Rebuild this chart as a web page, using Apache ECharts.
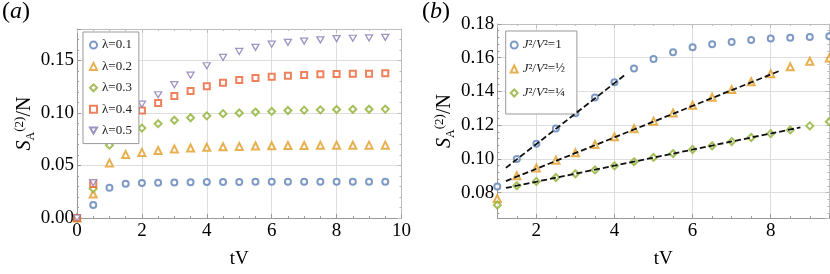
<!DOCTYPE html>
<html>
<head>
<meta charset="utf-8">
<script src="https://cdn.jsdelivr.net/npm/echarts@6/dist/echarts.min.js"></script>
<style>
html,body{margin:0;padding:0;background:#fff;}
#chart{width:830px;height:274px;}
</style>
</head>
<body>
<div id="chart"></div>
<script>
// ---------- Data ----------
// Panel (a): x values (tV) and series for each lambda
var xA = [0, 0.5, 1, 1.5, 2, 2.5, 3, 3.5, 4, 4.5, 5, 5.5, 6, 6.5, 7, 7.5, 8, 8.5, 9, 9.5];
var lam01 = [0, 0.0123, 0.0288, 0.0327, 0.0333, 0.0335, 0.0339, 0.0340, 0.0342, 0.0343, 0.0344, 0.0345, 0.0345, 0.0345, 0.0345, 0.0345, 0.0345, 0.0345, 0.0345, 0.0345];
var lam02 = [0, 0.0228, 0.0525, 0.0604, 0.0625, 0.0643, 0.0658, 0.0667, 0.0673, 0.0679, 0.0682, 0.0686, 0.0688, 0.0690, 0.0691, 0.0692, 0.0693, 0.0693, 0.0694, 0.0694];
var lam03 = [0, 0.0279, 0.0694, 0.0805, 0.0856, 0.0898, 0.0931, 0.0955, 0.0973, 0.0994, 0.1000, 0.1009, 0.1015, 0.1024, 0.1027, 0.1030, 0.1033, 0.1035, 0.1036, 0.1037];
var lam04 = [0, 0.0324, 0.0799, 0.0946, 0.1024, 0.1096, 0.1162, 0.1210, 0.1255, 0.1288, 0.1315, 0.1333, 0.1345, 0.1354, 0.1363, 0.1369, 0.1372, 0.1373, 0.1375, 0.1378];
var lam05 = [0, 0.0336, 0.0835, 0.1003, 0.1084, 0.1174, 0.1270, 0.1360, 0.1450, 0.1529, 0.1586, 0.1625, 0.1655, 0.1673, 0.1685, 0.1697, 0.1709, 0.1712, 0.1715, 0.1721];
var namesA = ['λ=0.1', 'λ=0.2', 'λ=0.3', 'λ=0.4', 'λ=0.5'];

// Panel (b)
var xB = [1, 1.5, 2, 2.5, 3, 3.5, 4, 4.5, 5, 5.5, 6, 6.5, 7, 7.5, 8, 8.5, 9, 9.5];
var j1 = [0.0836, 0.1000, 0.1090, 0.1181, 0.1271, 0.1364, 0.1454, 0.1536, 0.1593, 0.1632, 0.1662, 0.1680, 0.1693, 0.1705, 0.1714, 0.1718, 0.1723, 0.1727];
var j2 = [0.0766, 0.0901, 0.0946, 0.0993, 0.1037, 0.1086, 0.1131, 0.1179, 0.1224, 0.1273, 0.1318, 0.1366, 0.1411, 0.1458, 0.1505, 0.1546, 0.1579, 0.1598];
var j4 = [0.0727, 0.0841, 0.0867, 0.0890, 0.0912, 0.0935, 0.0959, 0.0983, 0.1009, 0.1032, 0.1056, 0.1078, 0.1103, 0.1127, 0.1150, 0.1172, 0.1196, 0.1221];
var namesB = ['J²/V²=1', 'J²/V²=½', 'J²/V²=¼'];

// Linear fits (dashed) endpoints
var fit1X = [1.22, 4.30], fit1Y = [0.0947, 0.1504];
var fit2X = [1.22, 8.27], fit2Y = [0.0869, 0.1526];
var fit3X = [1.22, 8.76], fit3Y = [0.0828, 0.1187];

// ---------- Styles ----------
var SERIF = '"Liberation Serif", "DejaVu Serif", serif';
var colors = ['#5E81B5', '#E19C24', '#8FB032', '#EB6235', '#8778B3'];
var FRAME = '#9a9a9a';
var FRAME2 = '#bdbdbd';
var GRIDC = '#dedede';
var DOWN_TRI = 'path://M0,0L20,0L10,17.3Z';

function pairs(xs, ys) { return xs.map(function (x, i) { return [x, ys[i]]; }); }

var symbolsA = ['emptyCircle', 'emptyTriangle', 'emptyDiamond', 'emptyRect', DOWN_TRI];
var sizesA = [6, 7, 7, 6, [7, 6]];
var dataA = [lam01, lam02, lam03, lam04, lam05];

var series = [];
dataA.forEach(function (d, i) {
  var isPath = i === 4;
  series.push({
    type: 'scatter', name: namesA[i], xAxisIndex: 0, yAxisIndex: 0,
    data: pairs(xA, d), symbol: symbolsA[i], symbolSize: sizesA[i],
    itemStyle: { color: isPath ? '#fff' : colors[i], borderColor: colors[i], borderWidth: 1.3 },
    clip: false, z: 3
  });
});

var dataB = [j1, j2, j4];
var symbolsB = ['emptyCircle', 'emptyTriangle', 'emptyDiamond'];
var sizesB = [6, 7, 7];
dataB.forEach(function (d, i) {
  series.push({
    type: 'scatter', name: namesB[i], xAxisIndex: 2, yAxisIndex: 2,
    data: pairs(xB, d), symbol: symbolsB[i], symbolSize: sizesB[i],
    itemStyle: { color: colors[i], borderColor: colors[i], borderWidth: 1.3 },
    z: 3
  });
});

[[fit1X, fit1Y], [fit2X, fit2Y], [fit3X, fit3Y]].forEach(function (f) {
  series.push({
    type: 'line', xAxisIndex: 2, yAxisIndex: 2, data: pairs(f[0], f[1]),
    symbol: 'none', lineStyle: { color: '#111', width: 1.8, type: [6, 3] }, z: 4, silent: true
  });
});

function mainX(grid, min, max, opts) {
  var a = {
    type: 'value', gridIndex: grid, min: min, max: max, position: 'bottom',
    axisLine: { show: true, onZero: false, lineStyle: { color: FRAME, width: 1 } },
    axisTick: { show: true, inside: true, length: 4, lineStyle: { color: FRAME } },
    minorTick: { show: true, splitNumber: 4, length: 2, lineStyle: { color: FRAME } },
    splitLine: { show: true, lineStyle: { color: GRIDC, width: 1 } },
    axisLabel: { color: '#000', fontFamily: SERIF, fontSize: 19, margin: 4 },
    name: 'tV', nameLocation: 'middle', nameGap: 32,
    nameTextStyle: { color: '#000', fontFamily: SERIF, fontSize: 19 }
  };
  for (var k in opts) a[k] = opts[k];
  return a;
}
function mirrorX(grid, min, max, opts) {
  var a = {
    type: 'value', gridIndex: grid, min: min, max: max, position: 'top',
    axisLine: { show: true, onZero: false, lineStyle: { color: FRAME2, width: 1 } },
    axisTick: { show: true, inside: true, length: 4, lineStyle: { color: FRAME2 } },
    minorTick: { show: true, splitNumber: 4, length: 2, lineStyle: { color: FRAME2 } },
    splitLine: { show: false }, axisLabel: { show: false }
  };
  for (var k in opts) a[k] = opts[k];
  return a;
}
var yName = '{s|S}{sub|A}{sup|(2)}{n|/N}';
var yNameStyle = {
  color: '#000', fontFamily: SERIF, fontSize: 19,
  rich: {
    s: { fontFamily: SERIF, fontStyle: 'italic', fontSize: 20, lineHeight: 24, verticalAlign: 'middle' },
    sub: { fontFamily: SERIF, fontSize: 12, lineHeight: 12, verticalAlign: 'bottom', padding: [0, 0, 0, 0] },
    sup: { fontFamily: SERIF, fontSize: 13, lineHeight: 13, verticalAlign: 'top' },
    n: { fontFamily: SERIF, fontSize: 20, lineHeight: 24, verticalAlign: 'middle' }
  }
};
function mainY(grid, min, max, opts) {
  var a = {
    type: 'value', gridIndex: grid, min: min, max: max, position: 'left',
    axisLine: { show: true, onZero: false, lineStyle: { color: FRAME, width: 1 } },
    axisTick: { show: true, inside: true, length: 4, lineStyle: { color: FRAME } },
    minorTick: { show: true, splitNumber: 5, length: 2, lineStyle: { color: FRAME } },
    splitLine: { show: true, lineStyle: { color: GRIDC, width: 1 } },
    axisLabel: { color: '#000', fontFamily: SERIF, fontSize: 19, margin: 3,
      formatter: function (v) { return v.toFixed(2); } },
    name: yName, nameLocation: 'middle', nameRotate: 90, nameGap: 36,
    nameTextStyle: yNameStyle
  };
  for (var k in opts) a[k] = opts[k];
  return a;
}
function mirrorY(grid, min, max, opts) {
  var a = {
    type: 'value', gridIndex: grid, min: min, max: max, position: 'right',
    axisLine: { show: true, onZero: false, lineStyle: { color: FRAME2, width: 1 } },
    axisTick: { show: true, inside: true, length: 4, lineStyle: { color: FRAME2 } },
    minorTick: { show: true, splitNumber: 5, length: 2, lineStyle: { color: FRAME2 } },
    splitLine: { show: false }, axisLabel: { show: false }
  };
  for (var k in opts) a[k] = opts[k];
  return a;
}

var chart = echarts.init(document.getElementById('chart'), null, { renderer: 'canvas' });
chart.setOption({
  animation: false,
  backgroundColor: '#fff',
  title: [
    { text: '({i|a})', left: 0, top: 0, textStyle: { fontFamily: SERIF, fontSize: 24, fontWeight: 'normal', color: '#000',
        rich: { i: { fontFamily: SERIF, fontSize: 24, fontStyle: 'italic', color: '#000' } } }, padding: [0, 2] },
    { text: '({i|b})', left: 420, top: 0, textStyle: { fontFamily: SERIF, fontSize: 24, fontWeight: 'normal', color: '#000',
        rich: { i: { fontFamily: SERIF, fontSize: 24, fontStyle: 'italic', color: '#000' } } }, padding: [0, 2] }
  ],
  grid: [
    { left: 77, top: 29, width: 324.5, height: 200, containLabel: false },
    { left: 497.3, top: 24, width: 332, height: 204.7, containLabel: false }
  ],
  xAxis: [
    mainX(0, 0, 10, { interval: 2 }),
    mirrorX(0, 0, 10, { interval: 2 }),
    mainX(1, 1, 9.5, { splitNumber: 4, axisLabel: { color: '#000', fontFamily: SERIF, fontSize: 19, margin: 4, showMinLabel: false, showMaxLabel: false } }),
    mirrorX(1, 1, 9.5, { splitNumber: 4 })
  ],
  yAxis: [
    mainY(0, 0, 0.18, { interval: 0.05, axisLabel: { color: '#000', fontFamily: SERIF, fontSize: 19, margin: 3, showMaxLabel: false,
      formatter: function (v) { return v.toFixed(2); } } }),
    mirrorY(0, 0, 0.18, { interval: 0.05 }),
    mainY(1, 0.065, 0.18, { splitNumber: 6, axisLabel: { color: '#000', fontFamily: SERIF, fontSize: 19, margin: 3, showMinLabel: false,
      formatter: function (v) { return v.toFixed(2); } } }),
    mirrorY(1, 0.065, 0.18, { splitNumber: 6 })
  ],
  legend: [
    {
      data: namesA, orient: 'vertical', left: 83, top: 32, padding: [6, 7, 6, 6],
      itemWidth: 7, itemHeight: 7, itemGap: 7.4,
      backgroundColor: '#fff', borderColor: '#999', borderWidth: 1,
      textStyle: { fontFamily: SERIF, fontSize: 13, color: '#222', lineHeight: 14 },
      selectedMode: false
    },
    {
      data: namesB, orient: 'vertical', left: 505.7, top: 31, padding: [7, 12, 14, 4],
      itemWidth: 7, itemHeight: 7, itemGap: 10,
      backgroundColor: '#fff', borderColor: '#999', borderWidth: 1,
      textStyle: { fontFamily: SERIF, fontSize: 13, color: '#222', lineHeight: 14,
        rich: { i: { fontFamily: SERIF, fontSize: 13, fontStyle: 'italic', color: '#222', lineHeight: 14 },
                t: { fontFamily: SERIF, fontSize: 13, color: '#222', lineHeight: 14 } } },
      formatter: function (name) {
        return '{i|J}{t|²/}{i|V}{t|²' + name.slice(5) + '}';
      },
      selectedMode: false
    }
  ],
  series: series
});
</script>
</body>
</html>
